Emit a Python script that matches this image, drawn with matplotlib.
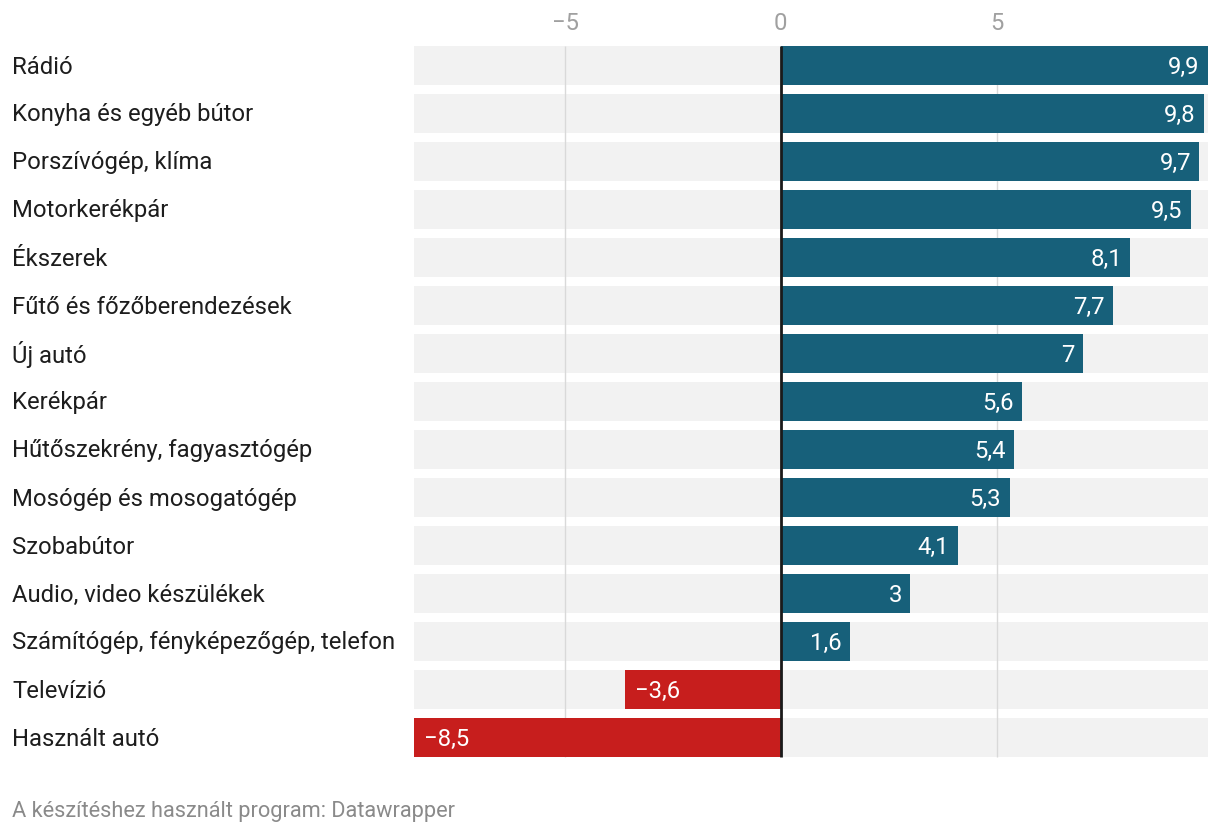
import matplotlib
matplotlib.use("Agg")
import matplotlib.pyplot as plt

plt.rcParams['font.family'] = ['Roboto', 'DejaVu Sans']

categories = ["Rádió", "Konyha és egyéb bútor", "Porszívógép, klíma", "Motorkerékpár",
              "Ékszerek", "Fűtő és főzőberendezések", "Új autó", "Kerékpár",
              "Hűtőszekrény, fagyasztógép", "Mosógép és mosogatógép", "Szobabútor",
              "Audio, video készülékek", "Számítógép, fényképezőgép, telefon",
              "Televízió", "Használt autó"]
values = [9.9, 9.8, 9.7, 9.5, 8.1, 7.7, 7.0, 5.6, 5.4, 5.3, 4.1, 3.0, 1.6, -3.6, -8.5]
xticks = [-5, 0, 5]
xmin, xmax = -8.5, 9.9

W, H = 1220, 834
fig = plt.figure(figsize=(W / 100, H / 100), dpi=100)
ax_left, ax_right = 414 / W, 1208 / W
ax_top, ax_bot = 41.5, 761.5
ax = fig.add_axes([ax_left, 1 - ax_bot / H, ax_right - ax_left, (ax_bot - ax_top) / H])

n = len(categories)
ypos = list(range(n))
bh = 39 / 48
ytop = -0.5 + (48 - 39) / 96
ybot = n - 0.5 - (48 - 39) / 96
ax.barh(ypos, [xmax - xmin] * n, left=xmin, height=bh, color="#f2f2f2", zorder=1)
for t in xticks:
    if t != 0:
        ax.vlines(t, ytop, ybot, color="#d9d9d9", lw=1, zorder=2)
colors = ["#17607a" if v >= 0 else "#c71e1d" for v in values]
ax.barh(ypos, values, height=bh, color=colors, zorder=3)
ax.vlines(0, ytop, ybot, color="#1a1a1a", lw=2, zorder=4)

def fmt(v):
    s = ("%g" % abs(v)).replace(".", ",")
    return ("\u2212" + s) if v < 0 else s

FS = 17.2
for y, v in zip(ypos, values):
    if v >= 0:
        ax.annotate(fmt(v), (v, y), xytext=(-6, -1.5), textcoords="offset points",
                    ha="right", va="center", color="white", fontsize=FS, zorder=5)
    else:
        ax.annotate(fmt(v), (v, y), xytext=(7, -1.5), textcoords="offset points",
                    ha="left", va="center", color="white", fontsize=FS, zorder=5)

ax.set_xlim(xmin, xmax)
ax.set_ylim(n - 0.5, -0.5)
ax.set_yticks([])
ax.set_xticks(xticks)
ax.set_xticklabels([fmt(t) for t in xticks])
ax.xaxis.tick_top()
ax.tick_params(axis="x", length=0, pad=4.5, labelsize=FS, labelcolor="#a0a0a0")
for s in ax.spines.values():
    s.set_visible(False)

for y, c in zip(ypos, categories):
    yp = 67 + 48 * y
    fig.text(12 / W, 1 - yp / H, c, ha="left", va="center", fontsize=FS, color="#1d1d1d")

fig.text(12 / W, 1 - 811 / H, "A készítéshez használt program: Datawrapper", ha="left",
         va="center", fontsize=15.7, color="#8a8a8a")

fig.savefig("out.png", dpi=100)
